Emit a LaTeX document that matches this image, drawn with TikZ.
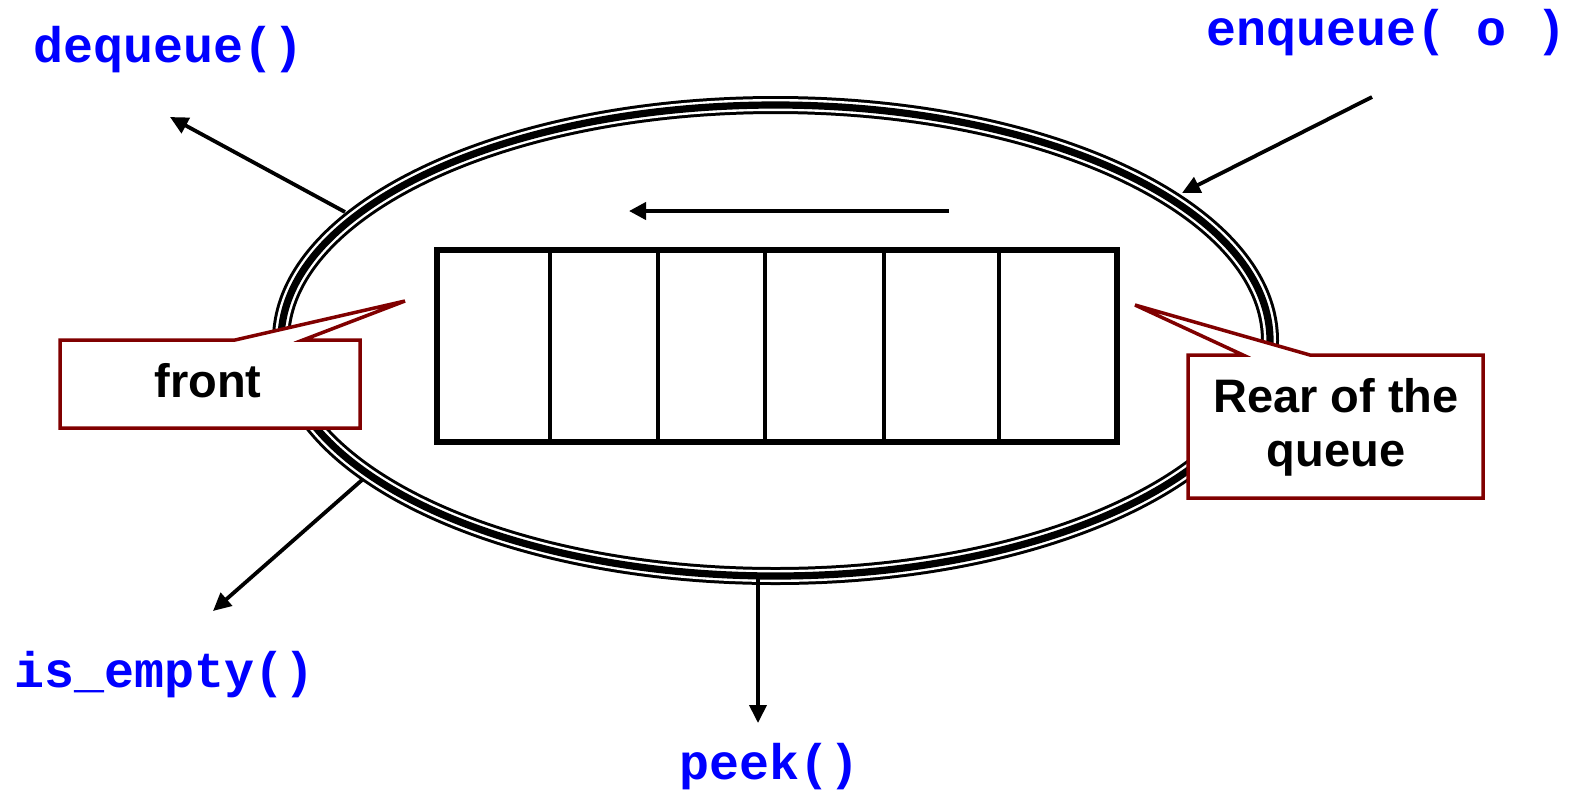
\documentclass[tikz,border=0pt]{standalone}
\usepackage{fontspec}
\setmainfont{Liberation Sans}
\newfontfamily\codefont{Liberation Mono}
\usetikzlibrary{arrows.meta,shapes.geometric}
\definecolor{callred}{RGB}{128,0,0}
\definecolor{opblue}{RGB}{0,0,255}

\begin{document}
\begin{tikzpicture}[x=0.5pt,y=-0.5pt,
  optext/.style={font=\codefont\bfseries\fontsize{25}{30}\selectfont, text=opblue, inner sep=0pt, anchor=base},
  callout/.style={draw=callred, line width=1.75pt, fill=white, line join=miter},
  calltext/.style={font=\bfseries\fontsize{23.5}{27}\selectfont, align=center, inner sep=0pt},
  oparrow/.style={line width=1.9pt, -{Triangle[length=9pt,width=8.5pt]}},
  ring/.style={ellipse, inner sep=0pt, minimum width=494.5pt, minimum height=235.5pt,
    draw, line width=9pt,
    postaction={draw=white, line width=6pt},
    postaction={draw=black, line width=3.6pt}},
  queuebox/.style={draw, line width=2.6pt, minimum width=340pt, minimum height=96pt, inner sep=0pt},
  divider/.style={line width=1.8pt}
]
\useasboundingbox (0,0) rectangle (1587,789);

% the queue object: triple-lined ellipse
\node[ring] (ring) at (775.5,340.5) {};

% the storage array with its cells
\node[queuebox] (q) at (777,346) {};
\foreach \xx in {550,658,765,884,999}
  \draw[divider] (\xx,0 |- q.north) -- (\xx,0 |- q.south);

% direction of movement inside the queue
\coordinate (flowS) at (949,211);
\coordinate (flowE) at (629,211);
\draw[line width=2pt, -{Triangle[length=8.5pt,width=8.5pt]}] (flowS) -- (flowE);

% operation labels
\node[optext] (deq) at (169,62) {dequeue()};
\node[optext] (enq) at (1387,45) {enqueue( o )};
\node[optext] (emp) at (165,687) {is\_empty()};
\node[optext] (pk)  at (770,779) {peek()};

% operation arrows
\coordinate (deqS) at (345,212);
\coordinate (deqE) at (170,117);
\coordinate (enqS) at (1372,97);
\coordinate (enqE) at (1182,193);
\coordinate (empS) at (362,480);
\coordinate (empE) at (213,611);
\coordinate (pkS)  at (758,579);
\coordinate (pkE)  at (758,723);
\draw[oparrow] (deqS) -- (deqE);
\draw[oparrow] (enqS) -- (enqE);
\draw[oparrow] (empS) -- (empE);
\draw[oparrow] (pkS) -- (pkE);

% callouts
\draw[callout] (60,340) -- (235,340) -- (405,301) -- (303,340) -- (360,340)
  -- (360,428) -- (60,428) -- cycle;
\node[calltext, anchor=base] (front) at (208,397) {front};

\draw[callout] (1188,355) -- (1243,355) -- (1135,305) -- (1310,355) -- (1483,355)
  -- (1483,498) -- (1188,498) -- cycle;
\node[calltext] (rear) at (1336,427) {Rear of the\\queue};
\end{tikzpicture}
\end{document}
